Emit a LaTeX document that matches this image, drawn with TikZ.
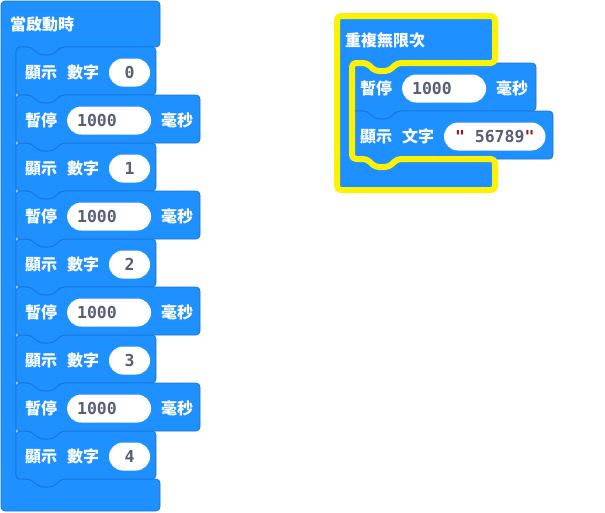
\documentclass[tikz,border=0pt]{standalone}
\usepackage{fontspec}
\newfontfamily\cjk{Noto Sans CJK TC}
\newfontfamily\mono{DejaVu Sans Mono}
\usetikzlibrary{positioning}

\definecolor{blockblue}{HTML}{1E90FF}
\definecolor{blockedge}{HTML}{1A74D2}
\definecolor{fieldtext}{HTML}{575E75}
\definecolor{quotered}{HTML}{A31515}
\definecolor{glow}{HTML}{FFF200}

% statement block: x, y (top left), width
\newcommand\stmt[3]{%
  \draw[blk] (#1,#2) -- ++(15,0) -- ++(8,8) -- ++(14,0) -- ++(8,-8) -- (#1+#3,#2)
    -- (#1+#3,#2+48) -- (#1+45,#2+48) -- ++(-8,8) -- ++(-14,0) -- ++(-8,-8)
    -- (#1,#2+48) -- cycle;}

\begin{document}
\begin{tikzpicture}[x=1pt,y=-1pt,node distance=9.5pt,
  blk/.style={fill=blockblue,draw=blockedge,line width=0.8pt,rounded corners=4pt,line join=round},
  lbl/.style={inner sep=0pt,text=white,font=\cjk\bfseries\fontsize{16}{16}\selectfont},
  fld/.style={fill=white,rounded corners=14pt,minimum height=28pt,minimum width=41pt,
    inner xsep=10pt,inner ysep=0pt,text=fieldtext,font=\mono\bfseries\fontsize{16.5}{16.5}\selectfont},
  wide/.style={fld,text width=64pt,minimum width=84pt}]
\useasboundingbox (0,0) rectangle (605,512);

% on start
\draw[blk] (1,1) -- (160,1) -- (160,47) -- (61,47) -- (53,55) -- (39,55) -- (31,47) -- (16,47)
  -- (16,479) -- (31,479) -- (39,487) -- (53,487) -- (61,479) -- (160,479) -- (160,511) -- (1,511) -- cycle;
\node[lbl,anchor=west] (start) at (10,24.5) {當啟動時};

\foreach \i in {0,...,4} {
  \stmt{16}{47+96*\i}{140}
  \node[lbl,anchor=west] (show\i) at (25,72.5+96*\i) {顯示};
  \node[lbl,right=of show\i] (num\i) {數字};
  \node[fld,right=of num\i] (v\i) {\i};
}
\foreach \i in {0,...,3} {
  \stmt{16}{95+96*\i}{184}
  \node[lbl,anchor=west] (pause\i) at (25,120.5+96*\i) {暫停};
  \node[wide,right=of pause\i] (ms\i) {1000};
  \node[lbl,right=of ms\i] (unit\i) {毫秒};
}

% forever
\draw[blk] (337,16) -- (495,16) -- (495,63) -- (397,63) -- (389,71) -- (375,71) -- (367,63) -- (352,63)
  -- (352,159) -- (367,159) -- (375,167) -- (389,167) -- (397,159) -- (495,159) -- (495,190) -- (337,190) -- cycle;
\node[lbl,anchor=west] (loop) at (345,40.5) {重複無限次};

\stmt{352}{63}{184}
\node[lbl,anchor=west] (pauseR) at (360,88.5) {暫停};
\node[wide,right=of pauseR] (msR) {1000};
\node[lbl,right=of msR] (unitR) {毫秒};

\stmt{352}{111}{201}
\node[lbl,anchor=west] (showR) at (360,136.5) {顯示};
\node[lbl,right=of showR] (txtR) {文字};
\node[fld,inner xsep=11pt,right=of txtR] (strR) {\textcolor{quotered}{"}\ 56789\textcolor{quotered}{"}};

% highlight
\draw[glow,line width=6pt,rounded corners=4pt,line join=round] (337,16) -- (495,16) -- (495,63) -- (397,63) -- (389,71) -- (375,71) -- (367,63) -- (352,63)
  -- (352,159) -- (367,159) -- (375,167) -- (389,167) -- (397,159) -- (495,159) -- (495,190) -- (337,190) -- cycle;
\end{tikzpicture}
\end{document}
